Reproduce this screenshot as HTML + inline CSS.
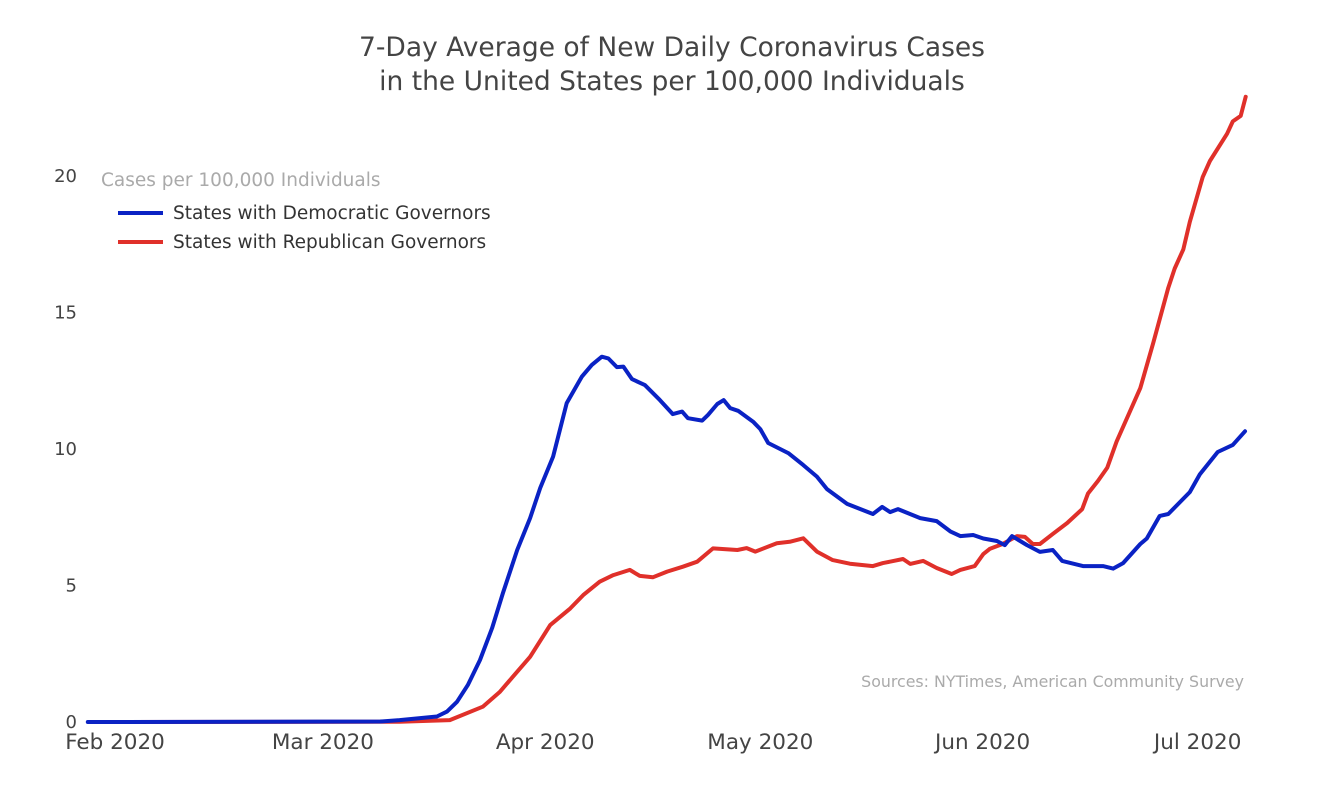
<!DOCTYPE html>
<html><head><meta charset="utf-8"><style>
html,body{margin:0;padding:0;background:#fff;}
svg{display:block;font-family:"DejaVu Sans","Liberation Sans",sans-serif;}
</style></head><body>
<svg id="chart" width="1320" height="802" viewBox="0 0 1320 802" xmlns="http://www.w3.org/2000/svg">
<rect width="1320" height="802" fill="#fff"/>
<text x="672" y="56" text-anchor="middle" font-size="26.5" fill="#444">7-Day Average of New Daily Coronavirus Cases</text>
<text x="672" y="90" text-anchor="middle" font-size="26.5" fill="#444">in the United States per 100,000 Individuals</text>
<text x="101" y="186" font-size="18.5" fill="#aaa">Cases per 100,000 Individuals</text>
<g>
<g><line x1="118" y1="213" x2="163" y2="213" stroke="#0a22c4" stroke-width="4"/><text x="173" y="219" font-size="18.5" fill="#333">States with Democratic Governors</text></g>
<g><line x1="118" y1="242" x2="163" y2="242" stroke="#e0302a" stroke-width="4"/><text x="173" y="248" font-size="18.5" fill="#333">States with Republican Governors</text></g>
</g>
<text x="1244" y="687" text-anchor="end" font-size="15.8" fill="#aaa">Sources: NYTimes, American Community Survey</text>
<g id="yticks"></g>
<g id="xticks"></g>
<g id="series"></g>
</svg>
<script>
// Days since Feb 1 2020
const demDays = [-3.8,1,37,39.7,44.9,46.3,47.7,49.2,50.9,52.6,54.1,56.1,57.9,59.3,61.1,63.0,65.1,66.5,67.9,68.8,70.0,70.9,72.1,73.9,76.0,77.8,79.1,79.9,81.9,82.7,84.0,84.9,85.8,86.9,89.0,90.0,91.1,93.9,96.0,97.9,99.3,102.1,105.7,107.0,108.1,109.2,112.3,114.6,116.5,117.9,119.7,121.1,123.0,124.1,125.1,127.2,129.0,130.8,132.1,135.0,137.8,139.2,140.6,143.0,143.9,145.7,146.9,149.9,151.3,153.8,155.9,157.6];
const demValues = [0,0,0.02,0.07,0.2,0.38,0.74,1.35,2.27,3.44,4.72,6.30,7.47,8.57,9.72,11.68,12.65,13.08,13.38,13.32,13.0,13.02,12.56,12.34,11.79,11.28,11.37,11.13,11.04,11.25,11.65,11.79,11.50,11.40,11.0,10.73,10.22,9.85,9.41,8.99,8.53,7.99,7.62,7.88,7.69,7.80,7.47,7.36,6.98,6.81,6.85,6.72,6.63,6.48,6.81,6.48,6.23,6.30,5.90,5.71,5.71,5.62,5.82,6.52,6.72,7.55,7.62,8.42,9.07,9.89,10.15,10.65];
const repDays = [1,39.7,46.7,51.3,53.7,55.5,57.9,60.7,63.5,65.3,67.6,69.5,71.8,73.2,75.0,77.0,79.2,81.2,83.4,86.8,88.1,89.3,92.3,94.1,96.0,97.9,100.1,102.5,105.7,107.1,109.9,110.9,112.7,114.6,116.7,117.9,119.9,121.1,122.0,123.8,125.8,126.9,128.0,129.0,130.8,132.8,134.9,135.7,137.1,138.4,139.7,143.0,144.8,146.9,147.8,149.0,149.9,151.7,152.7,155.1,155.9,157.0,157.7];
const repValues = [0,0.01,0.07,0.56,1.11,1.66,2.39,3.55,4.16,4.65,5.14,5.38,5.57,5.35,5.30,5.51,5.69,5.87,6.36,6.30,6.37,6.24,6.55,6.60,6.73,6.24,5.93,5.80,5.71,5.82,5.97,5.79,5.90,5.64,5.42,5.57,5.71,6.15,6.34,6.52,6.81,6.78,6.52,6.52,6.89,7.29,7.80,8.37,8.83,9.32,10.27,12.23,13.88,15.91,16.61,17.31,18.32,19.96,20.55,21.55,22.0,22.2,22.9];
const yTicks = [0,5,10,15,20];
const xTickDays = [0,29,60,90,121,151];
const xTickLabels = ["Feb 2020","Mar 2020","Apr 2020","May 2020","Jun 2020","Jul 2020"];

const NS = "http://www.w3.org/2000/svg";
function xScale(d){ return 115 + d * 7.17; }
function yScale(v){ return 722 - v * 27.3; }

const yg = document.getElementById('yticks');
yTicks.forEach(v => {
  const t = document.createElementNS(NS,'text');
  
  
  t.setAttribute('x', 77); t.setAttribute('y', yScale(v) + 6);
  t.setAttribute('text-anchor','end'); t.setAttribute('font-size','18'); t.setAttribute('fill','#444');
  t.textContent = v; yg.appendChild(t);
});
const xg = document.getElementById('xticks');
xTickDays.forEach((d,i) => {
  const t = document.createElementNS(NS,'text');
  
  
  t.setAttribute('x', xScale(d)); t.setAttribute('y', 749);
  t.setAttribute('text-anchor','middle'); t.setAttribute('font-size','21.5'); t.setAttribute('fill','#444');
  t.textContent = xTickLabels[i]; xg.appendChild(t);
});
const sg = document.getElementById('series');
function drawLine(days, vals, color, name){
  const p = document.createElementNS(NS,'path');
  
  
  p.setAttribute('d', days.map((d,i)=>(i?'L':'M')+xScale(d).toFixed(1)+','+yScale(vals[i]).toFixed(1)).join(' '));
  p.setAttribute('fill','none'); p.setAttribute('stroke',color); p.setAttribute('stroke-width','4');
  p.setAttribute('stroke-linejoin','round'); p.setAttribute('stroke-linecap','round');
  sg.appendChild(p);
}
drawLine(repDays, repValues, '#e0302a', 'republican-line');
drawLine(demDays, demValues, '#0a22c4', 'democratic-line');
</script>
</body></html>
